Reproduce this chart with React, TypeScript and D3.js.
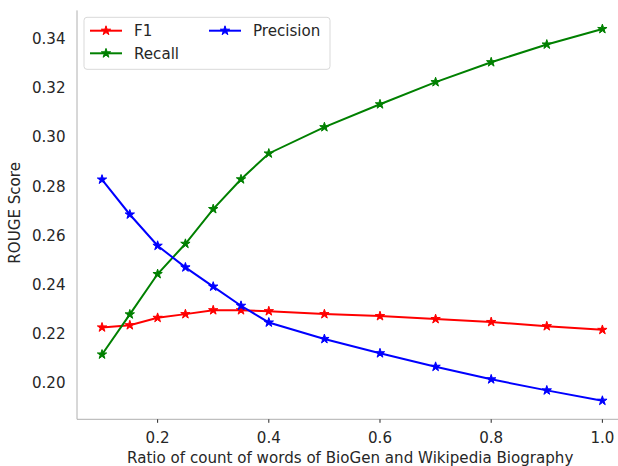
import * as d3 from 'd3';

const ratios = [0.1, 0.15, 0.2, 0.25, 0.3, 0.35, 0.4, 0.5, 0.6, 0.7, 0.8, 0.9, 1.0];
const f1 = [0.2226, 0.2235, 0.2265, 0.228, 0.2296, 0.2296, 0.2292, 0.228, 0.2272, 0.226, 0.2248, 0.2231, 0.2216];
const recall = [0.2116, 0.2279, 0.2443, 0.2566, 0.2707, 0.2828, 0.2933, 0.304, 0.3133, 0.3223, 0.3304, 0.3376, 0.3439];
const precision = [0.2827, 0.2685, 0.2558, 0.247, 0.2392, 0.2314, 0.2246, 0.2179, 0.2121, 0.2066, 0.2015, 0.197, 0.1928];

const xTicks = [0.2, 0.4, 0.6, 0.8, 1.0];
const yTicks = [0.2, 0.22, 0.24, 0.26, 0.28, 0.3, 0.32, 0.34];

const series = [
  { name: 'F1', values: f1, color: '#ff0000' },
  { name: 'Recall', values: recall, color: '#008000' },
  { name: 'Precision', values: precision, color: '#0000ff' }
];

const W = 618;
const H = 466;
const left = 77;
const right = 627.4;
const top = 10.4;
const bottom = 419.3;
const font = '"DejaVu Sans", sans-serif';
const fs = 15.1;
const textColor = '#262626';

// matplotlib-style 5% margins
const pad = (lo: number, hi: number): [number, number] => [lo - (hi - lo) * 0.05, hi + (hi - lo) * 0.05];

const App = (): JSX.Element => {
  const [x0, x1] = pad(d3.min(ratios)!, d3.max(ratios)!);
  const all = [...f1, ...recall, ...precision];
  const [y0, y1] = pad(d3.min(all)!, d3.max(all)!);

  const x = d3.scaleLinear([x0, x1], [left, right]);
  const y = d3.scaleLinear([y0, y1], [bottom, top]);

  const line = d3
    .line<number>()
    .x((_, i) => x(ratios[i]))
    .y((d) => y(d));

  const star = d3.symbol(d3.symbolStar, 27)()!;

  const legendRows = [
    { s: series[0], lx: 90, ly: 30.7 },
    { s: series[1], lx: 90, ly: 53.3 },
    { s: series[2], lx: 209, ly: 30.7 }
  ];

  return (
    <svg
      width={W}
      height={H}
      viewBox={`0 0 ${W} ${H}`}
      style={{ position: 'absolute', left: 0, top: 0, background: '#fff' }}
      fontFamily={font}
    >
      {/* spines */}
      <line x1={left} x2={left} y1={top} y2={bottom} stroke="#b0b0b0" strokeWidth={1} />
      <line x1={left} x2={W} y1={bottom} y2={bottom} stroke="#b0b0b0" strokeWidth={1} />

      {/* x ticks */}
      {xTicks.map((t) => (
        <g key={t} transform={`translate(${x(t)},${bottom})`}>
          <line y1={0} y2={3.5} stroke={textColor} strokeWidth={1} />
          <text y={23.5} textAnchor="middle" fontSize={fs} fill={textColor}>
            {t.toFixed(1)}
          </text>
        </g>
      ))}

      {/* y ticks */}
      {yTicks.map((t) => (
        <text key={t} x={65.5} y={y(t)} dy="0.36em" textAnchor="end" fontSize={fs} fill={textColor}>
          {t.toFixed(2)}
        </text>
      ))}

      <text x={(left + right) / 2 - 2} y={462.5} textAnchor="middle" fontSize={fs} fill={textColor}>
        Ratio of count of words of BioGen and Wikipedia Biography
      </text>
      <text
        transform={`translate(20,${(top + bottom) / 2 - 2}) rotate(-90)`}
        textAnchor="middle"
        fontSize={fs}
        fill={textColor}
      >
        ROUGE Score
      </text>

      {/* series */}
      {series.map((s) => (
        <g key={s.name}>
          <path d={line(s.values)!} fill="none" stroke={s.color} strokeWidth={2} />
          {s.values.map((v, i) => (
            <path
              key={i}
              d={star}
              transform={`translate(${x(ratios[i])},${y(v)})`}
              fill={s.color}
              stroke={s.color}
              strokeWidth={1}
            />
          ))}
        </g>
      ))}

      {/* legend */}
      <rect x={84} y={17.3} width={246} height={52} rx={3} fill="#fff" fillOpacity={0.8} stroke="#d9d9d9" />
      {legendRows.map(({ s, lx, ly }) => (
        <g key={s.name}>
          <line x1={lx} x2={lx + 32} y1={ly} y2={ly} stroke={s.color} strokeWidth={2} />
          <path d={star} transform={`translate(${lx + 16},${ly})`} fill={s.color} stroke={s.color} strokeWidth={1} />
          <text x={lx + 44} y={ly} dy="0.36em" fontSize={fs} fill={textColor}>
            {s.name}
          </text>
        </g>
      ))}
    </svg>
  );
};

export default App;
